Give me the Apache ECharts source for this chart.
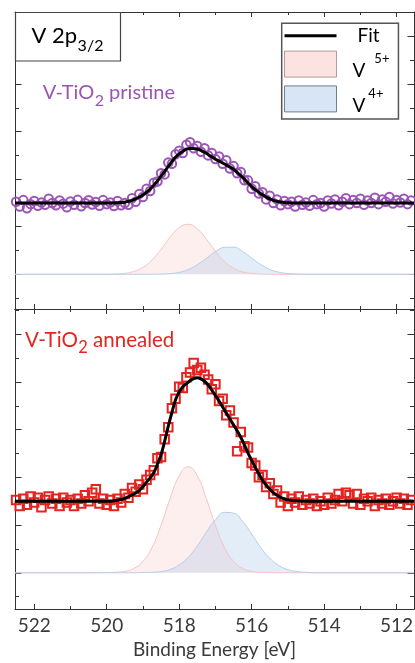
<!DOCTYPE html>
<html><head><meta charset="utf-8">
<script src="https://cdn.jsdelivr.net/npm/echarts@6/dist/echarts.min.js"></script>
<style>html,body{margin:0;padding:0;background:#fff}#c{width:415px;height:663px}</style>
</head><body><div id="c"></div>
<script>
// ---------- data (intensity in arbitrary units, offset spectra) ----------
const energyStart = 522.5, energyStep = 0.1;   // measured spectra sampling
const pristineCounts = [
  3.05, 2.85, 3.12, 2.78, 2.95, 3.08, 2.88, 3.02, 2.92, 3.18,
  3.00, 2.90, 3.10, 2.97, 2.82, 3.06, 2.92, 3.13, 2.86, 3.00,
  3.11, 2.93, 3.04, 2.88, 3.12, 2.95, 3.02, 2.87, 3.08, 2.90,
  3.00, 2.92, 3.20, 3.05, 3.38, 3.25, 3.60, 3.50, 3.85, 3.90,
  4.25, 4.20, 4.70, 4.65, 5.05, 5.20, 5.10, 5.45, 5.55, 5.30,
  5.40, 5.15, 5.30, 5.00, 5.10, 4.85, 4.95, 4.65, 4.80, 4.45,
  4.55, 4.25, 4.30, 3.95, 3.95, 3.60, 3.70, 3.40, 3.45, 3.15,
  3.30, 3.00, 3.15, 2.90, 3.08, 2.95, 3.05, 2.85, 3.10, 2.92,
  3.02, 2.88, 3.12, 2.95, 3.00, 2.85, 3.10, 2.98, 3.15, 2.90,
  3.05, 3.20, 2.95, 3.12, 3.00, 3.18, 2.92, 3.10, 3.00, 3.22,
  2.95, 3.15, 3.05, 3.25, 2.98, 3.12, 3.02, 3.18, 2.95, 3.10,
  3.00
];
const annealedCounts = [
  3.05, 2.80, 3.10, 2.85, 3.20, 2.95, 3.15, 2.75, 3.05, 3.20,
  2.90, 3.10, 2.80, 3.15, 2.95, 3.05, 2.80, 3.10, 2.90, 3.25,
  3.00, 3.35, 3.50, 2.90, 3.10, 2.85, 3.05, 2.80, 3.10, 2.95,
  3.30, 3.15, 3.55, 3.40, 3.70, 3.50, 3.90, 4.10, 4.30, 4.80,
  4.85, 5.60, 6.10, 6.90, 7.30, 7.80, 7.75, 8.20, 8.40, 8.80,
  8.50, 8.60, 8.30, 8.10, 7.70, 7.90, 7.20, 7.30, 6.60, 6.80,
  6.30, 5.10, 5.90, 5.30, 5.25, 4.60, 4.50, 4.00, 4.10, 3.60,
  3.75, 3.30, 3.45, 2.95, 3.20, 2.80, 3.10, 2.95, 3.20, 2.85,
  3.05, 2.90, 3.10, 2.80, 3.00, 2.85, 3.15, 2.90, 3.05, 3.30,
  3.00, 3.35, 3.25, 2.90, 3.30, 2.85, 3.10, 3.00, 3.15, 2.80,
  3.05, 2.90, 3.10, 2.85, 3.00, 3.15, 2.90, 3.10, 2.85, 3.05,
  3.00
];
const fitStart = 520.0, fitStep = 0.1, fitBase = 3.0;
const pristineFit = [
  3.00, 3.00, 3.00, 3.01, 3.02, 3.03, 3.07, 3.11, 3.17, 3.25,
  3.33, 3.45, 3.58, 3.75, 3.93, 4.13, 4.33, 4.54, 4.74, 4.92,
  5.06, 5.17, 5.26, 5.29, 5.29, 5.27, 5.21, 5.13, 5.04, 4.94,
  4.84, 4.76, 4.68, 4.59, 4.51, 4.42, 4.29, 4.15, 4.00, 3.84,
  3.69, 3.56, 3.45, 3.34, 3.25, 3.17, 3.11, 3.07, 3.04, 3.02,
  3.01, 3.00, 3.00, 3.00, 3.00, 3.00
];
const annealedFit = [
  3.00, 3.00, 3.02, 3.04, 3.07, 3.12, 3.19, 3.26, 3.34, 3.45,
  3.62, 3.80, 3.98, 4.20, 4.55, 4.95, 5.52, 6.15, 6.72, 7.25,
  7.58, 7.80, 7.93, 8.05, 8.14, 8.18, 8.13, 8.03, 7.87, 7.66,
  7.44, 7.20, 6.95, 6.70, 6.45, 6.20, 5.95, 5.68, 5.36, 5.02,
  4.72, 4.42, 4.15, 3.88, 3.68, 3.50, 3.36, 3.25, 3.16, 3.10,
  3.06, 3.03, 3.02, 3.01, 3.00, 3.00
];
const compStep = 0.25;
const pristineV5Start = 520.0;
const pristineV5 = [0.00, 0.01, 0.04, 0.12, 0.29, 0.60, 1.05, 1.56, 1.96, 2.10, 1.91, 1.48, 0.97, 0.54, 0.26, 0.10, 0.04, 0.01, 0.00];
const pristineV4Start = 518.75;
const pristineV4 = [0.00, 0.01, 0.03, 0.08, 0.20, 0.40, 0.67, 0.95, 1.13, 1.14, 0.96, 0.68, 0.41, 0.20, 0.09, 0.03, 0.01, 0.00];
const annealedV5Start = 520.5;
const annealedV5 = [0.00, 0.01, 0.01, 0.02, 0.06, 0.18, 0.48, 1.06, 1.99, 3.11, 4.06, 4.44, 4.06, 3.11, 1.99, 1.06, 0.48, 0.18, 0.06, 0.02, 0.01, 0.00];
const annealedV4Start = 519.25;
const annealedV4 = [0.00, 0.01, 0.02, 0.05, 0.14, 0.33, 0.65, 1.13, 1.70, 2.22, 2.53, 2.50, 2.16, 1.62, 1.06, 0.61, 0.30, 0.13, 0.05, 0.02, 0.00];
const xMajorTicks = [512, 514, 516, 518, 520, 522];
const xMinorTicks = [513, 515, 517, 519, 521];
const yMajorTicks = [0, 2, 4, 6, 8, 10];
const yMinorTicks = [-1, 1, 3, 5, 7, 9, 11];
const legendNames = ['Fit', 'V5+', 'V4+'];

// ---------- styling / layout ----------
const X_MIN = 511.52, X_MAX = 522.53;
const FONT = 'Lato, "Open Sans", sans-serif';
const PURPLE = '#9b55b5', RED = '#e52420';
const PINK_FILL = 'rgba(250,170,170,0.27)', PINK_LINE = '#f5c4c4';
const BLUE_FILL = 'rgba(140,180,225,0.35)', BLUE_LINE = '#b4cfea';
const AX = '#333';

function pairs(start, step, vals) {
  return vals.map((v, i) => [+(start - i * step).toFixed(3), v]);
}
function withEnds(arr, base) {
  return [[X_MAX, base]].concat(arr, [[X_MIN, base]]);
}

function xAx(grid, pos, ticks, len, line, labels) {
  const o = {
    type: 'value', gridIndex: grid, position: pos, min: X_MIN, max: X_MAX, inverse: true,
    axisLine: { show: line, onZero: false, lineStyle: { color: AX, width: 1 } },
    axisTick: { show: true, inside: true, length: len, customValues: ticks, lineStyle: { color: AX, width: 1 } },
    axisLabel: { show: labels, customValues: ticks, margin: 7, fontSize: 19, fontFamily: FONT, color: '#3a3a3a' },
    splitLine: { show: false }
  };
  if (labels) {
    o.name = 'Binding Energy [eV]';
    o.nameLocation = 'middle';
    o.nameGap = 31;
    o.nameTextStyle = { fontSize: 19, fontFamily: FONT, color: '#3a3a3a' };
  }
  return o;
}
function yAx(grid, pos, mn, mx, ticks, len, line) {
  return {
    type: 'value', gridIndex: grid, position: pos, min: mn, max: mx,
    axisLine: { show: line, onZero: false, lineStyle: { color: AX, width: 1 } },
    axisTick: { show: true, inside: true, length: len, customValues: ticks, lineStyle: { color: AX, width: 1 } },
    axisLabel: { show: false },
    splitLine: { show: false }
  };
}

const Y0 = [-1.46, 11.03], Y1 = [-1.52, 11.06];
// grids 0/1 carry the data + major ticks; grids 2/3 overlay them and carry only minor ticks
const xAxes = [
  xAx(0, 'bottom', xMajorTicks, 5, true, false),
  xAx(0, 'top', xMajorTicks, 5, true, false),
  xAx(1, 'bottom', xMajorTicks, 5, true, true),
  xAx(1, 'top', xMajorTicks, 5, true, false),
  xAx(2, 'bottom', xMinorTicks, 3, false, false),
  xAx(2, 'top', xMinorTicks, 3, false, false),
  xAx(3, 'bottom', xMinorTicks, 3, false, false),
  xAx(3, 'top', xMinorTicks, 3, false, false)
];
const yAxes = [
  yAx(0, 'left', Y0[0], Y0[1], yMajorTicks, 6.5, true),
  yAx(0, 'right', Y0[0], Y0[1], yMajorTicks, 6.5, true),
  yAx(1, 'left', Y1[0], Y1[1], yMajorTicks, 6.5, true),
  yAx(1, 'right', Y1[0], Y1[1], yMajorTicks, 6.5, true),
  yAx(2, 'left', Y0[0], Y0[1], yMinorTicks, 4, false),
  yAx(2, 'right', Y0[0], Y0[1], yMinorTicks, 4, false),
  yAx(3, 'left', Y1[0], Y1[1], yMinorTicks, 4, false),
  yAx(3, 'right', Y1[0], Y1[1], yMinorTicks, 4, false)
];

function compSeries(name, xi, yi, data, fill, line) {
  return {
    name, type: 'line', xAxisIndex: xi, yAxisIndex: yi, data: withEnds(data, 0),
    smooth: true, symbol: 'none', z: 1, silent: true,
    itemStyle: { color: fill },
    lineStyle: { color: line, width: 1 },
    areaStyle: { color: fill }
  };
}
function scatterSeries(name, xi, yi, vals, sym, color) {
  return {
    name, type: 'scatter', xAxisIndex: xi, yAxisIndex: yi,
    data: pairs(energyStart, energyStep, vals), symbol: sym, symbolSize: 8.5, z: 2,
    itemStyle: { color: 'rgba(0,0,0,0)', borderColor: color, borderWidth: 2, opacity: 1 }
  };
}
function fitSeries(xi, yi, vals) {
  return {
    name: 'Fit', type: 'line', xAxisIndex: xi, yAxisIndex: yi,
    data: withEnds(pairs(fitStart, fitStep, vals), fitBase),
    smooth: 0.4, symbol: 'none', showSymbol: false, z: 3,
    itemStyle: { color: '#000' }, lineStyle: { color: '#000', width: 3 }
  };
}

const series = [
  compSeries('V5+', 0, 0, pairs(pristineV5Start, compStep, pristineV5), PINK_FILL, PINK_LINE),
  compSeries('V4+', 0, 0, pairs(pristineV4Start, compStep, pristineV4), BLUE_FILL, BLUE_LINE),
  scatterSeries('V-TiO2 pristine', 0, 0, pristineCounts, 'circle', PURPLE),
  fitSeries(0, 0, pristineFit),
  compSeries('V5+', 2, 2, pairs(annealedV5Start, compStep, annealedV5), PINK_FILL, PINK_LINE),
  compSeries('V4+', 2, 2, pairs(annealedV4Start, compStep, annealedV4), BLUE_FILL, BLUE_LINE),
  scatterSeries('V-TiO2 annealed', 2, 2, annealedCounts, 'rect', RED),
  fitSeries(2, 2, annealedFit)
];

// text measurement for subscript placement
const mctx = document.createElement('canvas').getContext('2d');
function tw(t, size) { mctx.font = size + 'px ' + FONT; return mctx.measureText(t).width; }

function subLabel(x, y, main, sub, rest, size, subSize, dy, color) {
  const els = [];
  els.push({ type: 'text', z: 100, style: { text: main, x: x, y: y, font: size + 'px ' + FONT, fill: color, align: 'left', verticalAlign: 'middle' } });
  const x2 = x + tw(main, size) + 0.5;
  els.push({ type: 'text', z: 100, style: { text: sub, x: x2, y: y + dy, font: subSize + 'px ' + FONT, fill: color, align: 'left', verticalAlign: 'middle' } });
  if (rest) {
    const x3 = x2 + tw(sub, subSize);
    els.push({ type: 'text', z: 100, style: { text: rest, x: x3, y: y, font: size + 'px ' + FONT, fill: color, align: 'left', verticalAlign: 'middle' } });
  }
  return els;
}

const graphic = [
  { type: 'rect', z: 99, shape: { x: 15.5, y: 12.5, width: 105, height: 48.5 }, style: { fill: '#fff', stroke: '#444', lineWidth: 1.2 } }
].concat(
  subLabel(31.5, 36, 'V 2p', '3/2', '', 22, 16, 10, '#000'),
  subLabel(42.7, 92.5, 'V-TiO', '2', ' pristine', 20, 16, 8, PURPLE),
  subLabel(25, 340, 'V-TiO', '2', ' annealed', 20.5, 16.5, 8, RED)
);

function mkGrid(top, h) {
  return { left: 15, right: 1, top: top, height: h, containLabel: false, outerBoundsMode: 'none' };
}

const option = {
  animation: false,
  backgroundColor: '#fff',
  grid: [mkGrid(12, 297), mkGrid(309, 300), mkGrid(12, 297), mkGrid(309, 300)],
  xAxis: xAxes,
  yAxis: yAxes,
  legend: {
    data: [
      { name: legendNames[0], icon: 'path://M0,0H52V3H0Z', itemStyle: { color: '#000' } },
      { name: legendNames[1], icon: 'rect', itemStyle: { color: '#fde2e2', borderColor: '#b49a9a', borderWidth: 1 } },
      { name: legendNames[2], icon: 'rect', itemStyle: { color: '#d7e5f4', borderColor: '#6f7f8f', borderWidth: 1 } }
    ],
    orient: 'vertical', left: 281.7, top: 23.3,
    itemWidth: 52, itemHeight: 26, itemGap: 5.3,
    padding: [3, 9, 4, 2.3],
    backgroundColor: '#fff', borderColor: '#555', borderWidth: 1.5,
    selectedMode: false, z: 50,
    formatter: function (n) {
      if (n === 'Fit') return '{f|Fit}';
      if (n === 'V5+') return '{t|V}{s5|5+}';
      return '{t|V}{s4|4+}';
    },
    textStyle: {
      width: 50,
      rich: {
        f: { fontSize: 19, fontFamily: FONT, color: '#000', padding: [0, 0, 0, 16] },
        t: { fontSize: 19, fontFamily: FONT, color: '#000', height: 13, lineHeight: 26, padding: [0, 0, 0, 11], verticalAlign: 'bottom' },
        s5: { fontSize: 13, fontFamily: FONT, color: '#000', height: 13, padding: [1, 0, 0, 9], verticalAlign: 'top' },
        s4: { fontSize: 13, fontFamily: FONT, color: '#000', height: 13, padding: [1, 0, 0, 3], verticalAlign: 'top' }
      }
    }
  },
  graphic: graphic,
  series: series
};

const chart = echarts.init(document.getElementById('c'), null, { renderer: 'canvas' });
chart.setOption(option);
</script>
</body></html>
